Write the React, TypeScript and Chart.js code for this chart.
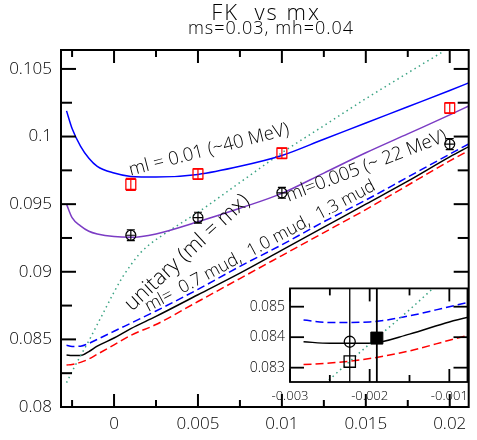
import React, { useEffect, useRef } from "react";
import { Chart, registerables } from "chart.js";

Chart.register(...registerables);

const FONT = "'Open Sans', 'Noto Sans', sans-serif";
const WEIGHT = "300";

// mx grid for the fitted curves
const fitX = [-0.00283, -0.0025, -0.002, -0.0015, -0.001, 0, 0.001, 0.0025, 0.005, 0.0075, 0.01, 0.0125, 0.015, 0.0175, 0.02, 0.0212];
// partially quenched fits at fixed valence ml
const fitMl010 = [0.1019, 0.1006, 0.0993, 0.0984, 0.0978, 0.0973, 0.09705, 0.097, 0.0972, 0.0978, 0.0986, 0.0998, 0.101, 0.1022, 0.1034, 0.104];
const fitMl005 = [0.095, 0.094, 0.0934, 0.093, 0.0928, 0.0926, 0.09255, 0.0928, 0.0937, 0.0947, 0.0958, 0.0973, 0.0988, 0.1002, 0.1016, 0.1023];
// ml at 0.7, 1.0 and 1.3 times mud
const fitMud07 = [0.08456, 0.08448, 0.0845, 0.0847, 0.085, 0.0856, 0.0862, 0.0871, 0.0887, 0.0904, 0.092, 0.0937, 0.0953, 0.097, 0.0987, 0.0995];
const fitMud10 = [0.08385, 0.0838, 0.0838, 0.0841, 0.0845, 0.0851, 0.0858, 0.0867, 0.0883, 0.0899, 0.0916, 0.0933, 0.095, 0.0967, 0.0985, 0.0993];
const fitMud13 = [0.0831, 0.08315, 0.0833, 0.08355, 0.0839, 0.0846, 0.0853, 0.0861, 0.0878, 0.0895, 0.0912, 0.0929, 0.0946, 0.0964, 0.0982, 0.099];
// unitary curve, ml = mx
const unitaryX = [-0.00283, -0.0025, -0.002, -0.0015, -0.001, -0.0005, 0, 0.0005, 0.001, 0.0015, 0.002, 0.003, 0.004, 0.005, 0.0075, 0.01, 0.0125, 0.015, 0.0175, 0.0195];
const unitaryY = [0.0818, 0.08262, 0.08378, 0.0849, 0.0861, 0.0873, 0.0885, 0.0896, 0.0905, 0.0913, 0.0919, 0.0928, 0.0936, 0.0944, 0.0966, 0.0988, 0.1008, 0.1028, 0.1047, 0.1062];

// lattice data points
const simX = [0.001, 0.005, 0.01, 0.02];
const simMl010 = [0.09646, 0.09723, 0.09877, 0.10211];
const errMl010 = [0.00045, 0.0004, 0.0004, 0.0004];
const simMl005 = [0.0927, 0.094, 0.09584, 0.09944];
const errMl005 = [0.0004, 0.0004, 0.0004, 0.0004];

// main axes ticks
const xTickValues = [-0.0025, 0, 0.0025, 0.005, 0.0075, 0.01, 0.0125, 0.015, 0.0175, 0.02];
const xTickLabels = ["", "0", "", "0.005", "", "0.01", "", "0.015", "", "0.02"];
const yTickValues = [0.08, 0.0825, 0.085, 0.0875, 0.09, 0.0925, 0.095, 0.0975, 0.1, 0.1025, 0.105];
const yTickLabels = ["0.08", "", "0.085", "", "0.09", "", "0.095", "", "0.1", "", "0.105"];

// zoomed panel: physical point
const physX = [-0.00225, -0.00191];
const physCircle = [0.08385];
const physSquare = [0.0832];
const physFilled = [0.08397];
const insetXTickValues = [-0.003, -0.0025, -0.002, -0.0015, -0.001];
const insetXTickLabels = ["-0.003", "", "-0.002", "", "-0.001"];
const insetYTickValues = [0.083, 0.084, 0.085];
const insetYTickLabels = ["0.083", "0.084", "0.085"];

// rotated curve captions, anchored at data coordinates (left end of baseline)
const curveLabels = [
  { text: "ml = 0.01 (~40 MeV)", x: 0.00098, y: 0.09711, angle: 14.5, size: 18.5 },
  { text: "ml=0.005 (~ 22 MeV)", x: 0.0104, y: 0.09518, angle: 21, size: 18.5 },
  { text: "unitary (ml = mx)", x: 0.00107, y: 0.08705, angle: 42.6, size: 21.5 },
  { text: "ml=  0.7 mud,  1.0 mud,  1.3 mud", x: 0.00205, y: 0.08702, angle: 28.3, size: 17.5 },
];

const BLUE = "#0000ff";
const RED = "#ff0000";
const PURPLE = "#7b3cc4";
const GREEN = "#3aa383";

const pts = (xs: number[], ys: number[]) => xs.map((x, i) => ({ x, y: ys[i] }));

const curve = (xs: number[], ys: number[], color: string, dash: number[] = []) => ({
  data: pts(xs, ys),
  showLine: true,
  borderColor: color,
  backgroundColor: color,
  borderWidth: 1.5,
  borderDash: dash,
  pointRadius: 0,
  cubicInterpolationMode: "monotone",
  fill: false,
});

function framePlugin(t: { xMaj: number; xMin: number; yMaj: number; yMin: number; lw: number; fillWhite?: boolean }) {
  return {
    id: "frame",
    beforeDraw(chart: any) {
      if (!t.fillWhite) return;
      const { ctx, chartArea: a } = chart;
      ctx.save();
      ctx.fillStyle = "#fff";
      ctx.fillRect(a.left, a.top, a.right - a.left, a.bottom - a.top);
      ctx.restore();
    },
    afterDraw(chart: any) {
      const { ctx, chartArea: a, scales } = chart;
      ctx.save();
      ctx.strokeStyle = "#000";
      ctx.lineWidth = t.lw;
      const seg = (x1: number, y1: number, x2: number, y2: number) => {
        ctx.beginPath();
        ctx.moveTo(x1, y1);
        ctx.lineTo(x2, y2);
        ctx.stroke();
      };
      for (const tk of scales.x.ticks) {
        const px = scales.x.getPixelForValue(tk.value);
        const len = tk.label ? t.xMaj : t.xMin;
        if (!len) continue;
        seg(px, a.bottom, px, a.bottom - len);
        seg(px, a.top, px, a.top + len);
      }
      for (const tk of scales.y.ticks) {
        const py = scales.y.getPixelForValue(tk.value);
        const len = tk.label ? t.yMaj : t.yMin;
        if (!len) continue;
        seg(a.left, py, a.left + len, py);
        seg(a.right, py, a.right - len, py);
      }
      ctx.strokeRect(a.left, a.top, a.right - a.left, a.bottom - a.top);
      ctx.restore();
    },
  };
}

const errorBarPlugin = {
  id: "errorBars",
  afterDatasetsDraw(chart: any) {
    const { ctx, scales, chartArea: a } = chart;
    const { x, y } = scales;
    ctx.save();
    ctx.beginPath();
    ctx.rect(a.left, a.top, a.right - a.left, a.bottom - a.top);
    ctx.clip();
    ctx.lineWidth = 1.2;
    const draw = (ys: number[], es: number[], color: string, cap: number, hbar: boolean) => {
      ctx.strokeStyle = color;
      simX.forEach((xv, i) => {
        const px = x.getPixelForValue(xv);
        const top = y.getPixelForValue(ys[i] + es[i]);
        const bot = y.getPixelForValue(ys[i] - es[i]);
        const mid = y.getPixelForValue(ys[i]);
        ctx.beginPath();
        ctx.moveTo(px, top);
        ctx.lineTo(px, bot);
        ctx.moveTo(px - cap, top);
        ctx.lineTo(px + cap, top);
        ctx.moveTo(px - cap, bot);
        ctx.lineTo(px + cap, bot);
        if (hbar) {
          ctx.moveTo(px - 5, mid);
          ctx.lineTo(px + 5, mid);
        }
        ctx.stroke();
      });
    };
    draw(simMl010, errMl010, RED, 5, false);
    draw(simMl005, errMl005, "#000", 4, true);
    ctx.restore();
  },
};

const captionPlugin = {
  id: "captions",
  afterDraw(chart: any) {
    const { ctx, scales } = chart;
    ctx.save();
    ctx.fillStyle = "#000";
    ctx.textBaseline = "alphabetic";
    ctx.textAlign = "left";
    for (const l of curveLabels) {
      const px = scales.x.getPixelForValue(l.x);
      const py = scales.y.getPixelForValue(l.y);
      ctx.save();
      ctx.translate(px, py);
      ctx.rotate((-l.angle * Math.PI) / 180);
      ctx.font = `${WEIGHT} ${l.size}px ${FONT}`;
      ctx.fillText(l.text, 0, 0);
      ctx.restore();
    }
    // heading
    ctx.textAlign = "center";
    ctx.font = `${WEIGHT} 22px ${FONT}`;
    (ctx as any).letterSpacing = "2px";
    ctx.fillText("FK  vs mx", 266, 20);
    ctx.font = `${WEIGHT} 18px ${FONT}`;
    (ctx as any).letterSpacing = "1px";
    ctx.fillText("ms=0.03, mh=0.04", 271, 34);
    (ctx as any).letterSpacing = "0px";
    ctx.restore();
  },
};

const tickFont = (size: number) => ({ family: FONT, size, weight: WEIGHT });

function mainConfig(): any {
  return {
    type: "scatter",
    data: {
      datasets: [
        {
          data: pts(simX, simMl010),
          pointStyle: "rect",
          pointRadius: 7,
          borderColor: RED,
          backgroundColor: "rgba(0,0,0,0)",
          borderWidth: 1.3,
        },
        {
          data: pts(simX, simMl005),
          pointStyle: "circle",
          pointRadius: 5,
          borderColor: "#000",
          backgroundColor: "rgba(0,0,0,0)",
          borderWidth: 1.2,
        },
        curve(fitX, fitMl010, BLUE),
        curve(fitX, fitMl005, PURPLE),
        curve(unitaryX, unitaryY, GREEN, [1.5, 3.5]),
        curve(fitX, fitMud07, BLUE, [8, 4]),
        curve(fitX, fitMud10, "#000"),
        curve(fitX, fitMud13, RED, [8, 4]),
      ],
    },
    options: {
      responsive: false,
      animation: false,
      devicePixelRatio: 1,
      layout: { padding: { top: 50, right: 1, left: 0, bottom: 0 } },
      plugins: { legend: { display: false }, tooltip: { enabled: false }, title: { display: false } },
      scales: {
        x: {
          type: "linear",
          min: -0.00316,
          max: 0.02113,
          afterBuildTicks: (s: any) => {
            s.ticks = xTickValues.map((value) => ({ value }));
          },
          afterFit: (s: any) => {
            s.height = 33;
          },
          grid: { display: false, drawTicks: false },
          border: { display: false },
          ticks: {
            callback: (_v: any, i: number) => xTickLabels[i] ?? "",
            font: tickFont(17),
            color: "#000",
            padding: 7,
            maxRotation: 0,
            autoSkip: false,
          },
        },
        y: {
          type: "linear",
          min: 0.08,
          max: 0.1064,
          afterBuildTicks: (s: any) => {
            s.ticks = yTickValues.map((value) => ({ value }));
          },
          afterFit: (s: any) => {
            s.width = 61;
          },
          grid: { display: false, drawTicks: false },
          border: { display: false },
          ticks: {
            callback: (_v: any, i: number) => yTickLabels[i] ?? "",
            font: tickFont(17),
            color: "#000",
            padding: 9,
            autoSkip: false,
          },
        },
      },
    },
    plugins: [framePlugin({ xMaj: 13, xMin: 7, yMaj: 15, yMin: 11, lw: 2 }), errorBarPlugin, captionPlugin],
  };
}

function insetConfig(): any {
  return {
    type: "scatter",
    data: {
      datasets: [
        {
          data: pts(physX.slice(1), physFilled),
          pointStyle: "rect",
          pointRadius: 8.5,
          borderColor: "#000",
          backgroundColor: "#000",
          borderWidth: 1,
        },
        {
          data: pts(physX.slice(0, 1), physCircle),
          pointStyle: "circle",
          pointRadius: 5.5,
          borderColor: "#000",
          backgroundColor: "rgba(0,0,0,0)",
          borderWidth: 1.3,
        },
        {
          data: pts(physX.slice(0, 1), physSquare),
          pointStyle: "rect",
          pointRadius: 8,
          borderColor: "#000",
          backgroundColor: "rgba(0,0,0,0)",
          borderWidth: 1.3,
        },
        ...physX.map((xv, i) => ({
          ...curve([xv, xv], [0.08, 0.09], "#000"),
          borderWidth: i === 0 ? 1.3 : 1.8,
          cubicInterpolationMode: "default",
        })),
        curve(unitaryX, unitaryY, GREEN, [1.5, 3.5]),
        curve(fitX, fitMud07, BLUE, [8, 4]),
        curve(fitX, fitMud10, "#000"),
        curve(fitX, fitMud13, RED, [8, 4]),
      ],
    },
    options: {
      responsive: false,
      animation: false,
      devicePixelRatio: 1,
      layout: { padding: { top: 5, right: 1, left: 0, bottom: 0 } },
      plugins: { legend: { display: false }, tooltip: { enabled: false }, title: { display: false } },
      scales: {
        x: {
          type: "linear",
          min: -0.003,
          max: -0.000772,
          afterBuildTicks: (s: any) => {
            s.ticks = insetXTickValues.map((value) => ({ value }));
          },
          afterFit: (s: any) => {
            s.height = 33;
          },
          grid: { display: false, drawTicks: false },
          border: { display: false },
          ticks: {
            callback: (_v: any, i: number) => insetXTickLabels[i] ?? "",
            font: tickFont(13),
            color: "#000",
            padding: 6,
            maxRotation: 0,
            autoSkip: false,
          },
        },
        y: {
          type: "linear",
          min: 0.08253,
          max: 0.0856,
          afterBuildTicks: (s: any) => {
            s.ticks = insetYTickValues.map((value) => ({ value }));
          },
          afterFit: (s: any) => {
            s.width = 50;
          },
          grid: { display: false, drawTicks: false },
          border: { display: false },
          ticks: {
            callback: (_v: any, i: number) => insetYTickLabels[i] ?? "",
            font: tickFont(14),
            color: "#000",
            padding: 5,
            autoSkip: false,
          },
        },
      },
    },
    plugins: [framePlugin({ xMaj: 13, xMin: 7, yMaj: 14, yMin: 0, lw: 1.8, fillWhite: true })],
  };
}

export default function App() {
  const mainRef = useRef<HTMLCanvasElement>(null);
  const insetRef = useRef<HTMLCanvasElement>(null);

  useEffect(() => {
    const main = new Chart(mainRef.current as HTMLCanvasElement, mainConfig());
    const inset = new Chart(insetRef.current as HTMLCanvasElement, insetConfig());
    return () => {
      main.destroy();
      inset.destroy();
    };
  }, []);

  return (
    <div style={{ position: "fixed", left: 0, top: 0, width: 477, height: 440, background: "#fff" }}>
      <canvas
        ref={mainRef}
        width={477}
        height={440}
        style={{ position: "absolute", left: 0, top: 0, width: 477, height: 440 }}
      />
      <canvas
        ref={insetRef}
        width={237}
        height={140}
        style={{ position: "absolute", left: 240, top: 275, width: 237, height: 140 }}
      />
    </div>
  );
}
